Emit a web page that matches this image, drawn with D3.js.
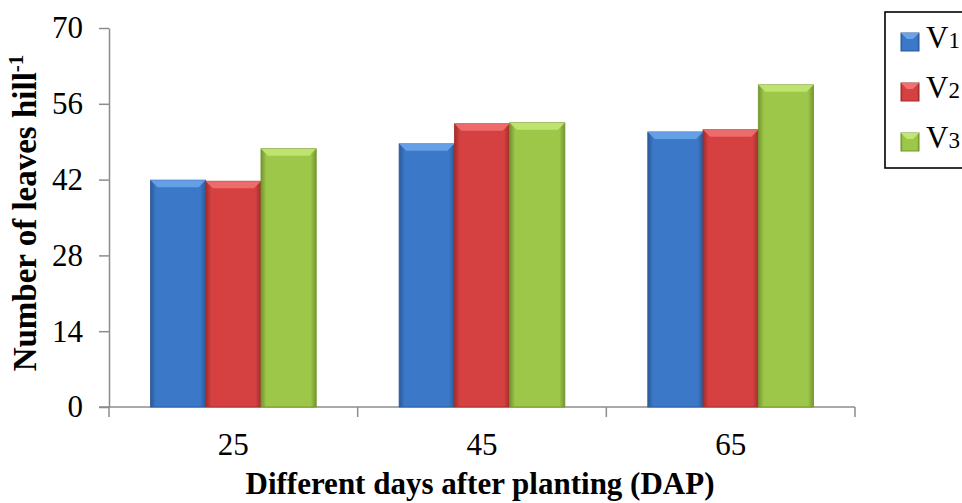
<!DOCTYPE html>
<html>
<head>
<meta charset="utf-8">
<script src="https://cdn.jsdelivr.net/npm/d3@7"></script>
<style>
  body { margin: 0; background: #fff; }
  text { font-family: "Liberation Serif", "Times New Roman", serif; }
</style>
</head>
<body>
<script>
// chart data
var days = ["25", "45", "65"];
var seriesNames = ["V1", "V2", "V3"];
var v1 = [41.9, 48.6, 50.8];
var v2 = [41.7, 52.3, 51.2];
var v3 = [47.7, 52.5, 59.5];
var yTicks = [0, 14, 28, 42, 56, 70];

var colors = { V1: ["#6aa3ea", "#3b78c8", "#2a5a9a"], V2: ["#f07070", "#d54040", "#a02c2c"], V3: ["#c2e672", "#9dc748", "#73952f"] };

var svgWidth = 962, svgHeight = 503;
var margin = { top: 28, right: 107, bottom: 96, left: 109 };
var width = svgWidth - margin.left - margin.right;
var height = svgHeight - margin.top - margin.bottom;

var svg = d3.select("body").append("svg")
  .attr("width", svgWidth)
  .attr("height", svgHeight);

// gradients for the bevelled bars
var defs = svg.append("defs");
seriesNames.forEach(function (s) {
  var g = defs.append("linearGradient").attr("id", "grad" + s)
    .attr("x1", "0%").attr("x2", "100%").attr("y1", "0%").attr("y2", "0%");
  g.append("stop").attr("offset", "0%").attr("stop-color", colors[s][2]);
  g.append("stop").attr("offset", "10%").attr("stop-color", colors[s][1]);
  g.append("stop").attr("offset", "90%").attr("stop-color", colors[s][1]);
  g.append("stop").attr("offset", "100%").attr("stop-color", colors[s][2]);
});

var chartGroup = svg.append("g")
  .attr("transform", `translate(${margin.left}, ${margin.top})`);

var xOuter = d3.scaleBand().domain(days).range([0, width]);
var xScale = d3.scaleBand().domain(days).range([0, width]).paddingInner(1 / 3).paddingOuter(1 / 6);
var xInner = d3.scaleBand().domain(seriesNames).range([0, xScale.bandwidth()]);
var yScale = d3.scaleLinear().domain([0, 70]).range([height, 0]);

var rows = days.map(function (d, i) {
  return { day: d, values: [{ s: "V1", v: v1[i] }, { s: "V2", v: v2[i] }, { s: "V3", v: v3[i] }] };
});

// y axis
var yAxis = d3.axisLeft(yScale).tickValues(yTicks).tickSize(10).tickSizeOuter(0).tickPadding(16);
var yG = chartGroup.append("g").call(yAxis);
yG.select(".domain").attr("stroke", "#8c8c8c").attr("stroke-width", 1.5);
yG.selectAll(".tick line").attr("stroke", "#8c8c8c").attr("stroke-width", 1.5);
yG.selectAll(".tick text").attr("font-size", "31px").attr("fill", "#000")
  .style("font-family", "Liberation Serif");

// x axis line with ticks between groups
var xG = chartGroup.append("g").attr("transform", `translate(0,${height})`);
xG.append("line").attr("x1", -10).attr("x2", width).attr("stroke", "#8c8c8c").attr("stroke-width", 1.5);
xG.selectAll("line.sep").data(days).enter().append("line")
  .attr("x1", function (d) { return xOuter(d) + xOuter.bandwidth(); })
  .attr("x2", function (d) { return xOuter(d) + xOuter.bandwidth(); })
  .attr("y1", 0).attr("y2", 10).attr("stroke", "#8c8c8c").attr("stroke-width", 1.5);
xG.append("line").attr("x1", 0).attr("x2", 0).attr("y1", 0).attr("y2", 10).attr("stroke", "#8c8c8c").attr("stroke-width", 1.5);
xG.selectAll("text").data(days).enter().append("text")
  .attr("x", function (d) { return xOuter(d) + xOuter.bandwidth() / 2; })
  .attr("y", 48)
  .attr("text-anchor", "middle")
  .attr("font-size", "31px")
  .text(function (d) { return d; });

// bars
var groups = chartGroup.selectAll("g.grp").data(rows).enter().append("g")
  .attr("class", "grp")
  .attr("transform", function (d) { return `translate(${xScale(d.day)},0)`; });

var bars = groups.selectAll("g.bar").data(function (d) { return d.values; }).enter().append("g").attr("class", "bar");
bars.append("rect")
  .attr("x", function (d) { return xInner(d.s); })
  .attr("y", function (d) { return yScale(d.v); })
  .attr("width", xInner.bandwidth())
  .attr("height", function (d) { return height - yScale(d.v); })
  .attr("fill", function (d) { return "url(#grad" + d.s + ")"; })
  .attr("stroke", function (d) { return colors[d.s][2]; })
  .attr("stroke-width", 0.8);
// top bevel
bars.append("path")
  .attr("d", function (d) {
    var x0 = xInner(d.s), x1 = x0 + xInner.bandwidth(), y0 = yScale(d.v), b = 7;
    return `M${x0},${y0}L${x1},${y0}L${x1 - b},${y0 + b}L${x0 + b},${y0 + b}Z`;
  })
  .attr("fill", function (d) { return colors[d.s][0]; })
  .attr("opacity", 0.9);

// axis titles
svg.append("text")
  .attr("x", 480)
  .attr("y", 494)
  .attr("text-anchor", "middle")
  .attr("font-size", "31px")
  .attr("font-weight", "bold")
  .text("Different days after planting (DAP)");

var yTitle = svg.append("text")
  .attr("transform", `translate(36,213)rotate(-90)`)
  .attr("text-anchor", "middle")
  .attr("font-size", "33px")
  .attr("font-weight", "bold");
yTitle.append("tspan").text("Number of leaves hill");
yTitle.append("tspan").attr("font-size", "21px").attr("dy", -13).text("-1");

// legend
var legend = svg.append("g").attr("transform", "translate(885,12)");
legend.append("rect").attr("x", 0).attr("y", 0).attr("width", 100).attr("height", 156)
  .attr("fill", "#fff").attr("stroke", "#000").attr("stroke-width", 1.6);
var li = legend.selectAll("g.li").data(seriesNames).enter().append("g")
  .attr("transform", function (d, i) { return `translate(16,${21 + i * 50})`; });
li.append("rect").attr("width", 18).attr("height", 18)
  .attr("fill", function (d) { return "url(#grad" + d + ")"; })
  .attr("stroke", function (d) { return colors[d][2]; });
li.append("path").attr("d", "M0,0L18,0L12,6L6,6Z").attr("fill", function (d) { return colors[d][0]; });
var lt = li.append("text").attr("x", 25).attr("y", 15).attr("font-size", "31px");
lt.append("tspan").text("V");
lt.append("tspan").attr("font-size", "23px").text(function (d) { return d.slice(1); });
</script>
</body>
</html>
